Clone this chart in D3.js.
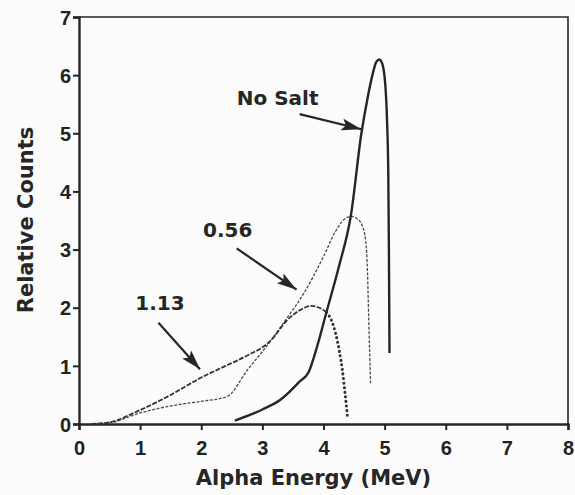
<!DOCTYPE html>
<html>
<head>
<meta charset="utf-8">
<script src="https://cdn.jsdelivr.net/npm/d3@7"></script>
<style>
  html, body { margin: 0; padding: 0; background: #fcfcfc; }
  svg { display: block; font-family: "DejaVu Sans", sans-serif; font-weight: bold; }
  .tick text { font-size: 20px; font-weight: bold; fill: #222; }
</style>
</head>
<body>
<div id="chart"></div>
<script>
// spectra: [energy MeV, relative counts]
const noSalt = [
    [2.55, 0.06], [3.0, 0.25], [3.3, 0.42], [3.6, 0.72], [3.76, 0.9],
    [3.9, 1.35], [4.05, 1.93], [4.25, 2.7], [4.45, 3.6], [4.62, 5.0],
    [4.72, 5.6], [4.8, 6.0], [4.86, 6.22], [4.91, 6.27], [4.96, 6.2],
    [5.01, 5.85], [5.04, 5.2], [5.06, 4.3], [5.07, 3.0], [5.08, 1.22]
];
const salt056 = [
    [0.2, 0.0], [0.5, 0.02], [1.0, 0.19], [1.6, 0.33], [2.0, 0.39],
    [2.42, 0.47], [2.75, 0.92], [3.15, 1.45], [3.4, 1.82], [3.65, 2.2],
    [4.0, 2.88], [4.2, 3.32], [4.35, 3.53], [4.46, 3.57], [4.55, 3.53],
    [4.63, 3.42], [4.69, 3.15], [4.72, 2.6], [4.74, 1.8], [4.77, 0.7]
];
const salt113 = [
    [0.2, 0.0], [0.5, 0.03], [1.0, 0.24], [1.5, 0.5], [2.0, 0.8],
    [2.4, 1.0], [2.7, 1.15], [3.15, 1.45], [3.4, 1.78], [3.6, 1.95],
    [3.8, 2.03], [3.95, 1.99], [4.05, 1.92], [4.13, 1.78], [4.2, 1.55],
    [4.26, 1.25], [4.31, 0.92], [4.35, 0.55], [4.39, 0.15]
];
const xTicks = [0, 1, 2, 3, 4, 5, 6, 7, 8];
const yTicks = [0, 1, 2, 3, 4, 5, 6, 7];

const labels = [
    { text: 'No Salt', x: 2.58, y: 5.49, from: [3.61, 5.33], to: [4.62, 5.07] },
    { text: '0.56', x: 2.03, y: 3.22, from: [2.58, 3.02], to: [3.56, 2.31] },
    { text: '1.13', x: 0.92, y: 1.96, from: [1.30, 1.74], to: [1.98, 0.94] }
];

const width = 575;
const height = 495;
const margin = { top: 17, right: 7, bottom: 71, left: 79 };
const innerW = width - margin.left - margin.right;
const innerH = height - margin.top - margin.bottom;
const ink = '#262626';

const svg = d3.select('#chart')
    .append('svg')
    .attr('width', width)
    .attr('height', height);

// long slim filled arrow head
svg.append('defs')
    .append('marker')
    .attr('id', 'arrow')
    .attr('viewBox', '0 0 10 10')
    .attr('refX', 10)
    .attr('refY', 5)
    .attr('markerWidth', 20)
    .attr('markerHeight', 12)
    .attr('markerUnits', 'userSpaceOnUse')
    .attr('preserveAspectRatio', 'none')
    .attr('orient', 'auto')
    .append('path')
    .attr('d', 'M 0 0 L 10 5 L 0 10 L 2 5 z')
    .attr('fill', ink);

const g = svg.append('g')
    .attr('transform', `translate(${margin.left},${margin.top})`);

const x = d3.scaleLinear().domain([0, 8]).range([0, innerW]);
const y = d3.scaleLinear().domain([0, 7]).range([innerH, 0]);

// frame: top and right edges
g.append('path')
    .attr('d', `M0,0 H${innerW} V${innerH}`)
    .attr('fill', 'none')
    .attr('stroke', ink)
    .attr('stroke-width', 1.6);

const xAxis = g.append('g')
    .attr('transform', `translate(0,${innerH})`)
    .call(d3.axisBottom(x).tickValues(xTicks).tickFormat(d3.format('d')).tickSize(6).tickPadding(6));

const yAxis = g.append('g')
    .call(d3.axisLeft(y).tickValues(yTicks).tickFormat(d3.format('d')).tickSize(6).tickPadding(2));

[xAxis, yAxis].forEach((axis) => {
    axis.select('.domain').attr('stroke', ink).attr('stroke-width', 2.4);
    axis.selectAll('.tick line').attr('stroke', ink).attr('stroke-width', 2);
    axis.selectAll('.tick text').attr('fill', ink);
});
xAxis.selectAll('.tick text').attr('dy', '0.95em');
yAxis.selectAll('.tick text').attr('dy', '0.36em');

const line = d3.line()
    .x((d) => x(d[0]))
    .y((d) => y(d[1]))
    .curve(d3.curveMonotoneX);

g.append('path')
    .datum(salt056)
    .attr('d', line)
    .attr('fill', 'none')
    .attr('stroke', '#4a4a4a')
    .attr('stroke-width', 1.3)
    .attr('stroke-dasharray', '3,1.5');

g.append('path')
    .datum(salt113.filter((d) => d[0] <= 4.05))
    .attr('d', line)
    .attr('fill', 'none')
    .attr('stroke', '#333')
    .attr('stroke-width', 1.8)
    .attr('stroke-dasharray', '5,1.5');

g.append('path')
    .datum(salt113.filter((d) => d[0] >= 4.05))
    .attr('d', line)
    .attr('fill', 'none')
    .attr('stroke', '#333')
    .attr('stroke-width', 3)
    .attr('stroke-linecap', 'round')
    .attr('stroke-dasharray', '0.1,4.5');

g.append('path')
    .datum(noSalt)
    .attr('d', line)
    .attr('fill', 'none')
    .attr('stroke', ink)
    .attr('stroke-width', 2.4);

// labels with arrows
labels.forEach((item) => {
    g.append('text')
        .attr('x', x(item.x))
        .attr('y', y(item.y))
        .attr('font-size', 20)
        .attr('fill', ink)
        .text(item.text);

    g.append('line')
        .attr('x1', x(item.from[0]))
        .attr('y1', y(item.from[1]))
        .attr('x2', x(item.to[0]))
        .attr('y2', y(item.to[1]))
        .attr('stroke', ink)
        .attr('stroke-width', 2.2)
        .attr('marker-end', 'url(#arrow)');
});

svg.append('text')
    .attr('x', margin.left + x(4) - 10)
    .attr('y', 485)
    .attr('text-anchor', 'middle')
    .attr('font-size', 21)
    .attr('fill', ink)
    .text('Alpha Energy (MeV)');

svg.append('text')
    .attr('transform', 'translate(33,220) rotate(-90)')
    .attr('text-anchor', 'middle')
    .attr('font-size', 21)
    .attr('fill', ink)
    .text('Relative Counts');
</script>
</body>
</html>
